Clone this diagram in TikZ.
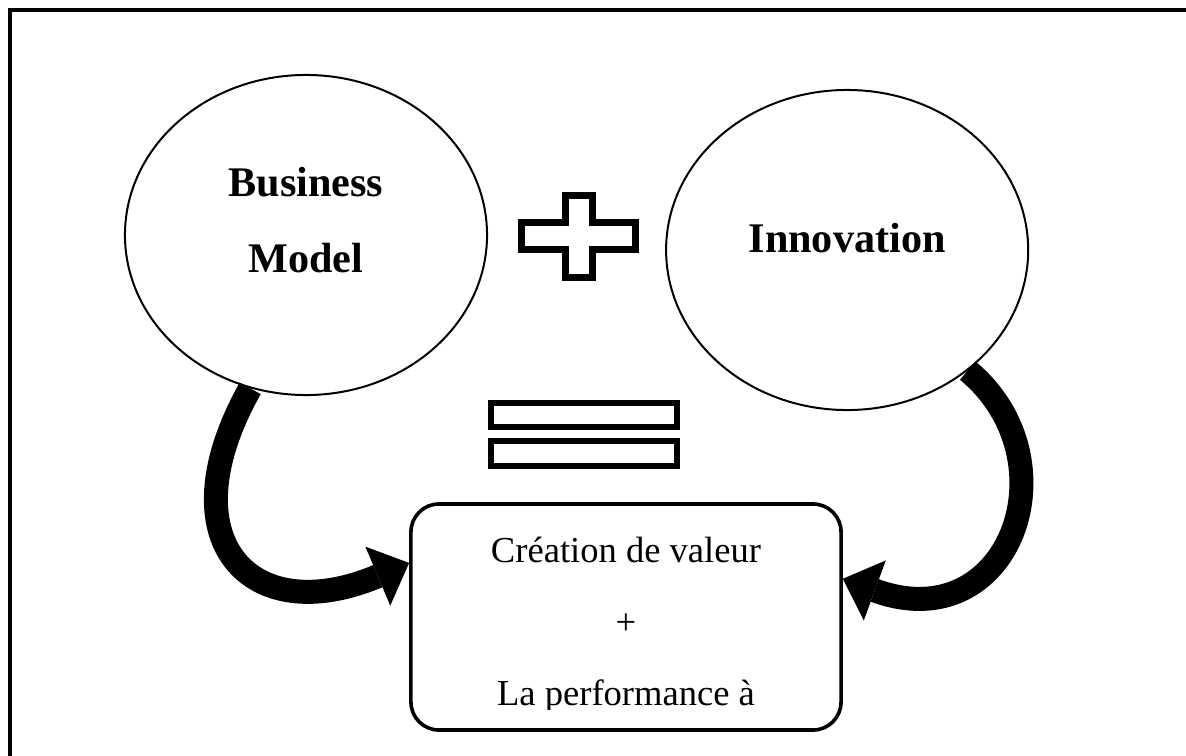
\documentclass[tikz,border=0pt]{standalone}
\usepackage{fontspec}
\setmainfont{Liberation Serif}
\usepackage{tikz}
\usetikzlibrary{shapes,arrows.meta,positioning}
\tikzset{bubble/.style={draw, ellipse, line width=0.05cm, minimum width=9.05cm, minimum height=8cm, inner sep=0mm}}
\tikzset{bubbletext/.style={align=center, font=\fontsize{30}{54}\selectfont\bfseries}}

\begin{document}
\begin{tikzpicture}[x=0.025cm, y=-0.025cm,
    valbox/.style={draw, rectangle, rounded corners=0.7cm, line width=0.09cm, minimum width=10.75cm, minimum height=5.65cm},
    valtext/.style={align=center, font=\fontsize{26}{51}\selectfont},
    bigarrow/.style={line width=0.6cm, -{Triangle[length=0.85cm, width=1.6cm, line width=0pt]}}]
                \useasboundingbox (0,0) rectangle (1186,756);
                \draw[line width=0.09cm] (10,756) -- (10,10) -- (1186,10);

                \node[bubble] (bm) at (306,235) {};
                \node[bubble] (inno) [right of = bm, node distance=13.525cm, yshift=-0.375cm] {};
                \node[bubbletext] (bmtext) at ([yshift=0.37cm]bm.center) {Business\\Model};
                \node[bubbletext] (innotext) at ([yshift=0.31cm]inno.center) {Innovation};

                \node[valbox] (val) at (626,617) {};
                \begin{scope}
                \clip (val.north west) rectangle ([yshift=0.55cm]val.south east);
                \node[valtext] (valtext) at ([yshift=-0.21cm]val.center) {Création de valeur\\+\\La performance à};
                \end{scope}

                \coordinate (plus) at (565.5,195.5);
                \draw[line width=0.175cm] (plus) -- ++(27,0) -- ++(0,27) -- ++(43,0) -- ++(0,27)
                    -- ++(-43,0) -- ++(0,28) -- ++(-27,0) -- ++(0,-28) -- ++(-44,0) -- ++(0,-27)
                    -- ++(44,0) -- cycle;

                \coordinate (eq) at (491,403);
                \draw[line width=0.15cm] (eq) rectangle ++(186,24)
                    ([yshift=-0.95cm]eq) rectangle ++(186,25);

                \draw[bigarrow] (bm.-110) .. controls (165,540) and (250,630) .. (val.166);
                \draw[bigarrow] (inno.-45) .. controls (1075,460) and (1010,640) .. (val.10);
\end{tikzpicture}
\end{document}
